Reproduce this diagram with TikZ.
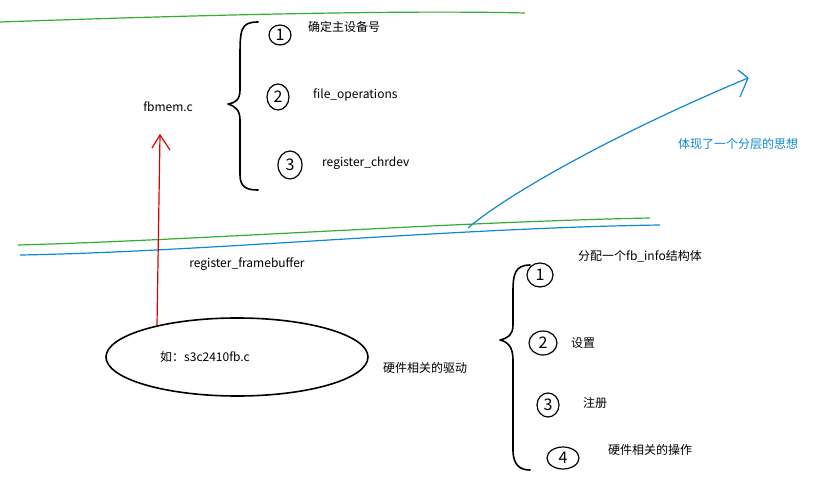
\documentclass[tikz,border=0pt]{standalone}
\usepackage{fontspec}
\setmainfont{Noto Sans CJK SC}
\usetikzlibrary{arrows.meta,shapes.geometric}
\tikzset{txt/.style={font=\fontsize{12}{14}\selectfont,inner sep=0pt},
hand/.style={line width=1.6pt,black,line cap=round,line join=round},
num/.style={font=\fontsize{16}{17}\selectfont,inner sep=1pt}}
\begin{document}
\begin{tikzpicture}[x=1pt,y=-1pt]
\useasboundingbox[fill=white] (0,0) rectangle (825,478);
\draw[green!60!black!80,line width=1.2pt] (0,22) .. controls (200,15) and (400,10) .. (525,13);
\draw[green!60!black!80,line width=1.2pt] (18,245) .. controls (200,240) and (450,222) .. (650,218);
\draw[cyan!70!blue,line width=1.2pt] (20,255) .. controls (200,252) and (450,228) .. (660,225);
\coordinate (bs) at (468,228);
\coordinate (be) at (748,78);
\draw[cyan!70!blue,line width=1.2pt] (bs) .. controls (500,200) and (600,140) .. (be);
\draw[cyan!70!blue,line width=1.2pt] (be) -- (738,70) (be) -- (740,97);
\node[txt,cyan!70!blue] (fc) at (738,144) {体现了一个分层的思想};
\draw[hand] (258,22) .. controls (240,22) and (240,30) .. (240,60) -- (240,90) .. controls (240,100) and (235,103) .. (228,104)
 .. controls (235,106) and (240,110) .. (240,120) -- (240,175) .. controls (240,188) and (248,190) .. (258,190);
\node[num] (c1) at (280,35) {1};
\draw[hand,line width=1.2pt] (c1) ellipse (11 and 10);
\node[txt,anchor=west] (t1) at (308,27) {确定主设备号};
\node[num] (c2) at (278,97) {2};
\draw[hand,line width=1.2pt] (c2) ellipse (11 and 13);
\node[txt,anchor=west] (t2) at (313,95) {file\_operations};
\node[num] (c3) at (290,165) {3};
\draw[hand,line width=1.2pt] (c3) ellipse (12 and 14);
\node[txt,anchor=west] (t3) at (322,163) {register\_chrdev};
\node[txt] (fb) at (168,107) {fbmem.c};
\node[draw,hand,ellipse,minimum width=262,minimum height=78] (el) at (237,357) {};
\node[txt] (s3) at (205,357) {如：s3c2410fb.c};
\node[txt] (hw) at (425,368) {硬件相关的驱动};
\node[txt] (rf) at (247,264) {register\_framebuffer};
\coordinate (ra) at (157,325);
\coordinate (rb) at (160,135);
\draw[red!85!black,line width=1.2pt] (ra) -- (rb);
\draw[red!85!black,line width=1.2pt] (152,148) -- (rb) -- (170,150);
\draw[hand] (530,265) .. controls (515,265) and (513,275) .. (513,290) -- (513,325) .. controls (513,335) and (508,338) .. (500,340)
 .. controls (508,342) and (513,347) .. (513,360) -- (513,450) .. controls (513,465) and (520,470) .. (530,470);
\node[num] (d1) at (540,275) {1};
\draw[hand,line width=1.2pt] (d1) ellipse (13 and 12);
\node[txt] (u1) at (640,256) {分配一个fb\_info结构体};
\node[num] (d2) at (543,343) {2};
\draw[hand,line width=1.2pt] (d2) ellipse (14 and 12);
\node[txt] (u2) at (583,343) {设置};
\node[num] (d3) at (548,405) {3};
\draw[hand,line width=1.2pt] (d3) ellipse (11 and 12);
\node[txt] (u3) at (595,403) {注册};
\node[num] (d4) at (563,458) {4};
\draw[hand,line width=1.2pt] (d4) ellipse (16 and 11);
\node[txt] (u4) at (650,450) {硬件相关的操作};
\end{tikzpicture}
\end{document}
